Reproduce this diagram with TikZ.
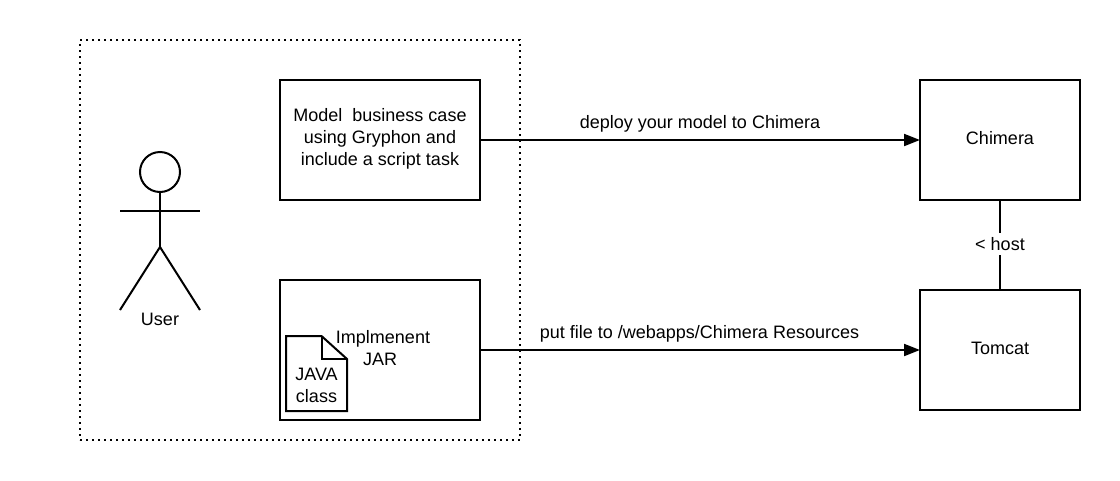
\documentclass[tikz,border=0pt]{standalone}
\usepackage{fontspec}
\setmainfont{Liberation Sans}
\usetikzlibrary{arrows.meta}
\tikzset{
  every node/.style={font=\fontsize{18}{22}\selectfont,outer sep=0pt},
  boxn/.style={draw=black,line width=2pt,minimum width=200pt,minimum height=120pt,inner sep=0pt,align=center,anchor=north west},
  srv/.style={boxn,minimum width=160pt},
  txt/.style={inner sep=0pt,align=center},
  conn/.style={draw=black,line width=2pt},
  arrowc/.style={conn,-{Triangle[length=16pt,width=12pt]}},
  frame/.style={draw=black,line width=2pt,dash pattern=on 2pt off 4pt,minimum width=440pt,minimum height=400pt,inner sep=0pt,anchor=north west},
  limb/.style={draw=black,line width=2pt},
  filec/.style={draw=black,line width=2pt,line join=miter}
}
\begin{document}
\begin{tikzpicture}[x=1pt,y=-1pt]
\useasboundingbox (0,0) rectangle (1120,480);
\node[frame] (scopeframe) at (80,40) {};
\node[boxn] (model) at (280,80) {};
\node[txt] (modeltext) at (380,139) {Model\ \ business case\\using Gryphon and\\include a script task};
\node[boxn,minimum height=140pt] (jar) at (280,280) {};
\node[txt] (jartext) at (383,348) {Implmenent\\JAR\rule{6pt}{0pt}};
\node[srv] (chimera) at (920,80) {};
\node[txt] (chimeratext) at (1000,138) {Chimera};
\node[srv] (tomcat) at (920,290) {};
\node[txt] (tomcattext) at (1000,348) {Tomcat};
% actor
\node[draw=black,line width=2pt,circle,minimum size=40pt,inner sep=0pt] (head) at (160,172) {};
\coordinate (hip) at (160,247);
\coordinate (armL) at (120,211);
\coordinate (armR) at (200,211);
\coordinate (legL) at (120,310);
\coordinate (legR) at (200,310);
\draw[limb] (head.south) -- (hip);
\draw[limb] (armL) -- (armR);
\draw[limb] (legL) -- (hip) -- (legR);
\node[txt] (user) at (160,319) {User};
% file icon
\coordinate (fa) at (286,336);
\coordinate (fb) at (321.5,336);
\coordinate (fc) at (347,359);
\coordinate (fd) at (347,411);
\coordinate (fe) at (286,411);
\coordinate (ff) at (321.5,359);
\draw[filec] (fa) -- (fb) -- (fc) -- (fd) -- (fe) -- cycle;
\draw[filec] (fb) -- (ff) -- (fc);
\node[txt] (javatext) at (316.5,385) {JAVA\\class};
% connectors
\draw[arrowc] (model.east) -- (chimera.west);
\draw[arrowc] (jar.east) -- (tomcat.west);
\node[txt] (l1) at (700,124) {deploy your model to Chimera};
\node[txt] (l2) at (699.5,334) {put file to /webapps/Chimera Resources};
\draw[conn] (chimera.south) -- (tomcat.north);
\node[txt,fill=white,minimum height=22pt] (l3) at (1000,244) {< host};
\end{tikzpicture}
\end{document}
